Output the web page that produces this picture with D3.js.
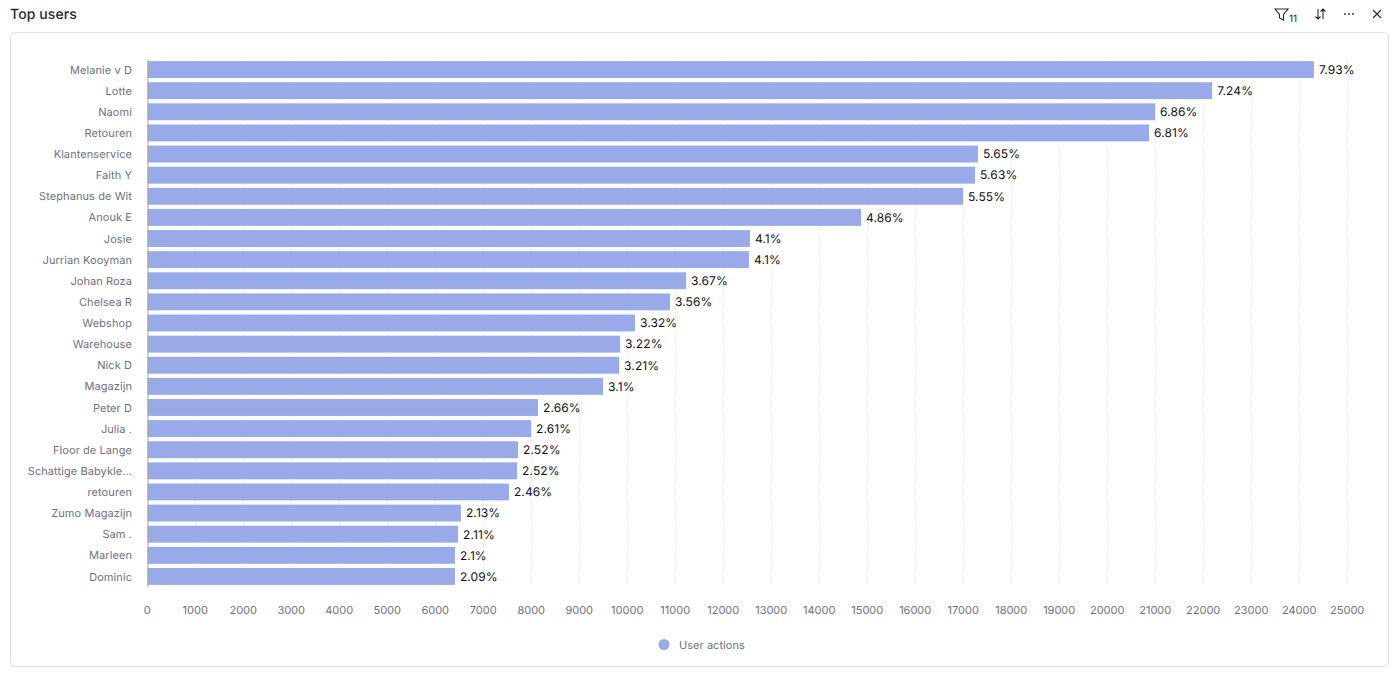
<!DOCTYPE html>
<html>
<head>
<meta charset="utf-8">
<script src="https://cdn.jsdelivr.net/npm/d3@7"></script>
<style>
    html, body { margin: 0; padding: 0; background: #fff; overflow: hidden; }
    text { font-family: Inter, sans-serif; text-rendering: geometricPrecision; }
</style>
</head>
<body>
<div id="graph"></div>
<script>
/*
    Top users bar chart
*/
var users = ["Melanie v D", "Lotte", "Naomi", "Retouren", "Klantenservice", "Faith Y",
    "Stephanus de Wit", "Anouk E", "Josie", "Jurrian Kooyman", "Johan Roza", "Chelsea R",
    "Webshop", "Warehouse", "Nick D", "Magazijn", "Peter D", "Julia .", "Floor de Lange",
    "Schattige Babykle...", "retouren", "Zumo Magazijn", "Sam .", "Marleen", "Dominic"]
var actions = [24300, 22180, 20990, 20865, 17300, 17240, 16990, 14865, 12550, 12530,
    11220, 10885, 10155, 9845, 9825, 9490, 8135, 7990, 7720, 7700, 7530, 6530, 6470, 6405, 6405]
var shares = ["7.93%", "7.24%", "6.86%", "6.81%", "5.65%", "5.63%", "5.55%", "4.86%", "4.1%", "4.1%",
    "3.67%", "3.56%", "3.32%", "3.22%", "3.21%", "3.1%", "2.66%", "2.61%", "2.52%", "2.52%",
    "2.46%", "2.13%", "2.11%", "2.1%", "2.09%"]
var xTicks = d3.range(0, 25001, 1000)
var seriesName = "User actions"
var title = "Top users"

var barColor = "#98aae8",
    labelColor = "#6f7086"

var svg = d3.select("#graph").append("svg")
    .attr("width", 1398)
    .attr("height", 675)
    .style("display", "block")

// Card
svg.append("rect")
    .attr("x", 10.5).attr("y", 32.5)
    .attr("width", 1378).attr("height", 634)
    .attr("rx", 4)
    .attr("fill", "#fff")
    .attr("stroke", "#e0e0e3")

svg.append("text")
    .attr("x", 10).attr("y", 19)
    .attr("font-size", 14)
    .attr("font-weight", 500)
    .attr("letter-spacing", 0.1)
    .attr("fill", "#27282e")
    .text(title)

// Scales
var x = d3.scaleLinear().domain([0, 25000]).range([147.5, 1347.5])
var y = d3.scaleBand().domain(users).range([59, 587]).paddingInner(0.2).paddingOuter(0.1)

// Grid
svg.append("g").selectAll("line")
    .data(xTicks.slice(1))
    .enter().append("line")
    .attr("x1", function(d) { return x(d) })
    .attr("x2", function(d) { return x(d) })
    .attr("y1", 59).attr("y2", 584)
    .attr("stroke", "#f0f0f2")
    .attr("stroke-dasharray", "8 3")

// Bars
svg.append("g").selectAll("rect")
    .data(actions)
    .enter().append("rect")
    .attr("x", x(0))
    .attr("y", function(d, i) { return y(users[i]) })
    .attr("width", function(d) { return x(d) - x(0) })
    .attr("height", y.bandwidth())
    .attr("fill", barColor)

// Value labels
svg.append("g").selectAll("text")
    .data(actions)
    .enter().append("text")
    .attr("x", function(d) { return x(d) + 5 })
    .attr("y", function(d, i) { return y(users[i]) + y.bandwidth() / 2 })
    .attr("dy", "0.36em")
    .attr("font-size", 12)
    .attr("letter-spacing", 0.1)
    .attr("fill", "#111114")
    .text(function(d, i) { return shares[i] })

// Axes
var yAxis = svg.append("g")
    .attr("transform", "translate(147.5,0)")
    .call(d3.axisLeft(y).tickSize(0).tickPadding(15.5))
yAxis.select(".domain").attr("stroke", "#a3a3ad")
yAxis.selectAll("text")
    .attr("font-size", 11)
    .attr("font-family", "Inter, sans-serif")
    .attr("letter-spacing", 0.08)
    .attr("dy", "0.37em")
    .attr("fill", labelColor)

var xAxis = svg.append("g")
    .attr("transform", "translate(-0.8,587)")
    .call(d3.axisBottom(x).tickValues(xTicks).tickFormat(d3.format("d")).tickSize(0).tickPadding(19))
xAxis.select(".domain").remove()
xAxis.selectAll("text")
    .attr("font-size", 11)
    .attr("font-family", "Inter, sans-serif")
    .attr("fill", labelColor)

// Legend
svg.append("circle")
    .attr("cx", 664).attr("cy", 644.5).attr("r", 5.5)
    .attr("fill", barColor)
svg.append("text")
    .attr("x", 679).attr("y", 649)
    .attr("font-size", 11)
    .attr("letter-spacing", 0.05)
    .attr("fill", labelColor)
    .text(seriesName)

// Toolbar icons
var icons = svg.append("g")
    .attr("fill", "none")
    .attr("stroke", "#27282e")
    .attr("stroke-width", 1.1)
icons.append("path").attr("d", "M1275 9H1288L1283.5 14.5V20L1279.5 18V14.5Z")
icons.append("path").attr("d", "M1318 9V19M1315.5 16.5L1318 19L1320.5 16.5M1323 19V9M1320.5 11.5L1323 9L1325.5 11.5")
icons.selectAll("circle.dot")
    .data([1345, 1349, 1353])
    .enter().append("circle")
    .attr("cx", function(d) { return d })
    .attr("cy", 14)
    .attr("r", 0.9)
    .attr("fill", "#27282e")
    .attr("stroke", "none")
icons.append("path").attr("d", "M1373 10L1381 18M1381 10L1373 18")
svg.append("text")
    .attr("x", 1289).attr("y", 22)
    .attr("font-size", 10)
    .attr("fill", "#27282e")
    .text("11")
</script>
</body>
</html>
